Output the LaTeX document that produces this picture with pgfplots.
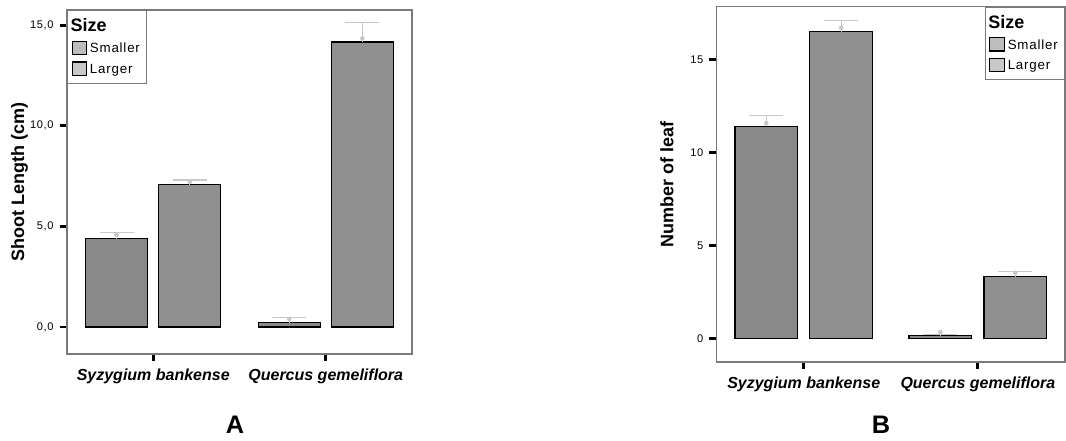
\documentclass[border=0pt]{standalone}
\usepackage{fontspec}
\setmainfont{Liberation Sans}
\newfontfamily\spss[LetterSpace=6]{Liberation Sans}
\usepackage{pgfplots}
\pgfplotsset{compat=1.18}
\definecolor{barS}{HTML}{898989}
\definecolor{barL}{HTML}{909090}
\definecolor{keyS}{HTML}{BDBDBD}
\definecolor{keyL}{HTML}{C8C8C8}
\definecolor{errgray}{HTML}{C8C8C8}
\definecolor{frame}{HTML}{7A7A7A}

\pgfplotsset{
  spssbars/.style={
    scale only axis,
    clip=false,
    xmin=-0.5, xmax=1.5,
    xtick={0,1},
    xticklabels={Syzygium bankense, Quercus gemeliflora},
    bar width=0.36,
    tick pos=left,
    tick align=outside,
    major tick length=5.5pt,
    tick style={black, line width=2.2pt},
    axis line style={draw=frame, line width=1pt},
    /pgf/number format/assume math mode=true,
    xticklabel style={font=\fontsize{12}{14}\selectfont\bfseries\itshape, yshift=-2pt},
    yticklabel style={font=\fontsize{8.3}{9}\selectfont\spss, xshift=-1pt},
    ylabel style={font=\fontsize{13.5}{15}\selectfont\bfseries},
    legend cell align=left,
    legend style={draw=frame, line width=0.8pt, font=\fontsize{10}{11}\selectfont\spss,
      inner xsep=3pt, inner ysep=4pt, row sep=3pt},
    error bars/error bar style={draw=errgray, line width=1pt},
    error bars/error mark=|,
    error bars/error mark options={draw=errgray, line width=1pt, mark size=12.75pt},
  },
  bars/.style={ybar, bar shift=0pt, fill=#1, draw=black, line width=0.9pt,
    error bars/.cd, y dir=plus, y explicit, /pgfplots/.cd},
  key/.style={/pgfplots/legend image code/.code={
    \draw[fill=#1, draw=black, line width=0.8pt] (0pt,-4.2pt) rectangle (11pt,5.6pt);}},
}

\begin{document}
\begin{tikzpicture}
\useasboundingbox (0,0) rectangle (799.5pt,330.75pt);

% A: shoot length
\begin{axis}[spssbars,
  at={(50.25pt,65.25pt)}, anchor=south west,
  width=258.75pt, height=258pt,
  ymin=-1.34, ymax=15.75,
  ytick={0,5,10,15},
  yticklabel style={/pgf/number format/.cd, fixed, fixed zerofill, precision=1, use comma},
  ylabel={Shoot Length (cm)},
  ylabel style={at={(axis description cs:-0.138,0.5)}, anchor=center},
  legend style={at={(0,1)}, anchor=north west},
]
\addlegendimage{empty legend}
\addlegendentry{\hspace*{-14.5pt}\fontsize{13.5}{14}\selectfont\normalfont\bfseries Size}
\addplot[key=keyS, bars=barS] coordinates {(-0.212,4.39) +- (0,0.29) (0.788,0.21) +- (0,0.25)};
\addlegendentry{Smaller}
\addplot[key=keyL, bars=barL] coordinates {(0.212,7.08) +- (0,0.22) (1.212,14.16) +- (0,0.96)};
\addlegendentry{Larger}
\addplot[only marks, mark=*, mark size=1.5pt, errgray, forget plot]
  coordinates {(-0.212,4.57) (0.212,7.22) (0.788,0.40) (1.212,14.34)};
\node[font=\fontsize{19}{20}\selectfont\bfseries] at (axis description cs:0.487,-0.206) {A};
\end{axis}

% B: number of leaf
\begin{axis}[spssbars,
  at={(537.5pt,59.25pt)}, anchor=south west,
  width=261.2pt, height=266.5pt,
  ymin=-1.25, ymax=17.83,
  ytick={0,5,10,15},
  ylabel={Number of leaf},
  ylabel style={at={(axis description cs:-0.1427,0.5)}, anchor=center},
  legend style={at={(1,1)}, anchor=north east},
]
\addlegendimage{empty legend}
\addlegendentry{\hspace*{-14.5pt}\fontsize{13.5}{14}\selectfont\normalfont\bfseries Size}
\addplot[key=keyS, bars=barS] coordinates {(-0.215,11.41) +- (0,0.59) (0.785,0.16) +- (0,0.05)};
\addlegendentry{Smaller}
\addplot[key=keyL, bars=barL] coordinates {(0.215,16.49) +- (0,0.61) (1.215,3.33) +- (0,0.27)};
\addlegendentry{Larger}
\addplot[only marks, mark=*, mark size=1.5pt, errgray, forget plot]
  coordinates {(-0.215,11.57) (0.215,16.7) (0.785,0.36) (1.215,3.54)};
\node[font=\fontsize{19}{20}\selectfont\bfseries] at (axis description cs:0.472,-0.176) {B};
\end{axis}
\end{tikzpicture}
\end{document}
